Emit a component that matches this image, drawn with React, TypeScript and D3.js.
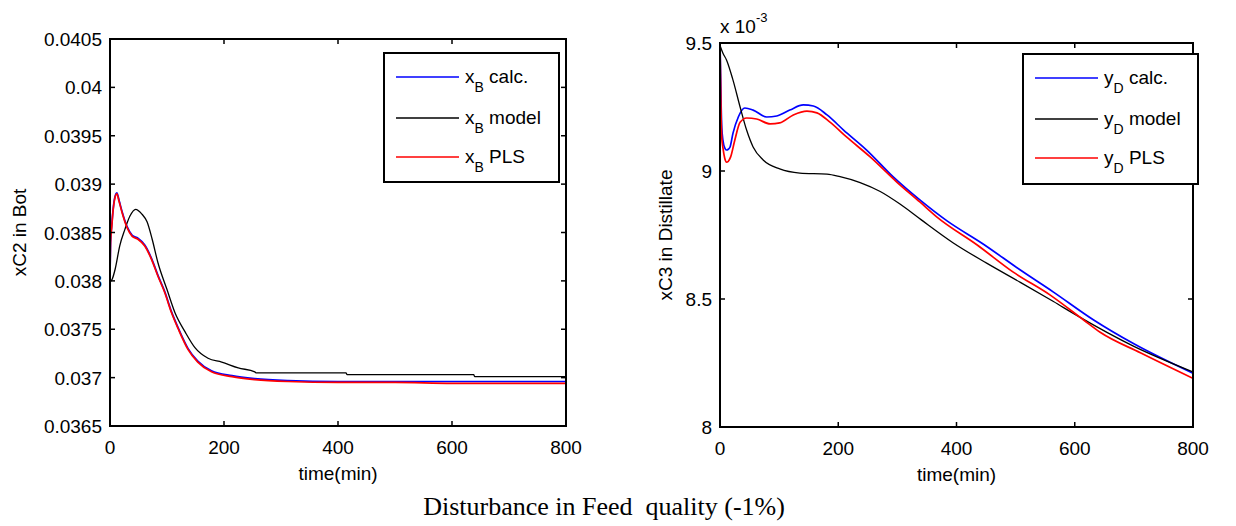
import React from "react";
import * as d3 from "d3";

// ---------- Data ----------
const xTicks = [0, 200, 400, 600, 800];

// Left panel: xC2 in Bot
const leftYTicks = [0.0365, 0.037, 0.0375, 0.038, 0.0385, 0.039, 0.0395, 0.04, 0.0405];
const leftYTickLabels = ["0.0365", "0.037", "0.0375", "0.038", "0.0385", "0.039", "0.0395", "0.04", "0.0405"];

const leftCalcT = [0, 1, 3, 5, 8, 12, 16, 21, 30, 39, 49, 61, 73, 84, 96, 108, 120, 137, 154, 178, 214, 254, 312, 400, 500, 600, 700, 800];
const leftCalcV = [0.03805, 0.0384, 0.03857, 0.03871, 0.03885, 0.03891, 0.03883, 0.03872, 0.03856, 0.03847, 0.03844, 0.03837, 0.03823, 0.03806, 0.03789, 0.03768, 0.03751, 0.0373, 0.03717, 0.03707, 0.03702, 0.03699, 0.03697, 0.03696, 0.03696, 0.03696, 0.03696, 0.03696];

const leftModelT = [0, 4, 9, 17, 26, 35, 45, 56, 65, 74, 84, 100, 114, 132, 149, 172, 196, 225, 254, 256, 414, 416, 638, 640, 800];
const leftModelV = [0.03799, 0.03802, 0.03812, 0.03836, 0.03853, 0.03867, 0.03874, 0.03869, 0.03861, 0.03843, 0.03819, 0.03791, 0.03767, 0.03747, 0.03731, 0.0372, 0.03716, 0.0371, 0.03706, 0.03705, 0.03705, 0.03703, 0.03703, 0.03701, 0.03701];

const leftPlsT = [0, 1, 3, 5, 8, 12, 16, 21, 30, 39, 49, 61, 73, 84, 96, 108, 120, 137, 154, 178, 214, 254, 312, 400, 500, 600, 700, 800];
const leftPlsV = [0.03805, 0.0384, 0.03855, 0.0387, 0.03884, 0.0389, 0.03882, 0.03871, 0.03855, 0.03846, 0.03843, 0.03836, 0.03822, 0.03805, 0.03788, 0.03767, 0.0375, 0.03729, 0.03716, 0.03706, 0.03701, 0.03698, 0.03696, 0.03695, 0.03695, 0.03694, 0.03694, 0.03694];

// Right panel: xC3 in Distillate (values x 10^-3)
const rightYTicks = [8, 8.5, 9, 9.5];
const rightYTickLabels = ["8", "8.5", "9", "9.5"];

const rightCalcT = [0, 1, 2, 3, 5, 8, 11, 14, 17, 22, 31, 42, 56, 79, 96, 118, 141, 158, 181, 209, 248, 293, 338, 384, 445, 508, 564, 632, 700, 800];
const rightCalcV = [9.5, 9.38, 9.25, 9.17, 9.12, 9.09, 9.082, 9.085, 9.094, 9.148, 9.211, 9.246, 9.238, 9.211, 9.215, 9.238, 9.258, 9.254, 9.219, 9.16, 9.082, 8.977, 8.887, 8.805, 8.715, 8.613, 8.527, 8.418, 8.325, 8.21];

const rightModelT = [0, 5, 11, 22, 34, 45, 56, 73, 101, 135, 181, 203, 237, 271, 305, 340, 394, 451, 508, 564, 604, 700, 800];
const rightModelV = [9.49, 9.46, 9.434, 9.355, 9.25, 9.16, 9.094, 9.043, 9.008, 8.992, 8.988, 8.978, 8.955, 8.92, 8.87, 8.81, 8.72, 8.64, 8.565, 8.49, 8.435, 8.315, 8.215];

const rightPlsT = [0, 1, 2, 3, 5, 8, 11, 14, 18, 25, 34, 45, 62, 85, 101, 124, 147, 164, 186, 214, 254, 299, 338, 367, 435, 496, 558, 615, 643, 711, 800];
const rightPlsV = [9.5, 9.35, 9.2, 9.13, 9.09, 9.05, 9.035, 9.038, 9.055, 9.12, 9.19, 9.207, 9.203, 9.184, 9.188, 9.219, 9.234, 9.227, 9.191, 9.133, 9.055, 8.957, 8.879, 8.82, 8.711, 8.605, 8.516, 8.418, 8.37, 8.29, 8.19];

const seriesNames = ["calc.", "model", "PLS"];
const seriesColors = ["#0000ff", "#000000", "#ff0000"];

const FONT = "'Liberation Sans', Arial, Helvetica, sans-serif";

type PanelProps = {
  x0: number; x1: number; y0: number; y1: number;
  yDomain: [number, number];
  yTicks: number[]; yTickLabels: string[];
  series: { t: number[]; v: number[] }[];
  yTitle: string; yTitleX: number;
  legendSym: string; legendSub: string;
  legend: { x: number; y: number; w: number; h: number };
  exponent?: boolean;
};

function Panel(p: PanelProps) {
  const xs = d3.scaleLinear().domain([0, 800]).range([p.x0, p.x1]);
  const ys = d3.scaleLinear().domain(p.yDomain).range([p.y1, p.y0]);
  const line = d3.line<[number, number]>()
    .x((d) => xs(d[0]))
    .y((d) => ys(d[1]))
    .curve(d3.curveMonotoneX);
  const tl = 5;
  const fs = 19;
  const rowOffsets = [24, 65, 104];
  return (
    <g>
      <defs>
        <clipPath id={`clip${p.x0}`}>
          <rect x={p.x0} y={p.y0} width={p.x1 - p.x0} height={p.y1 - p.y0} />
        </clipPath>
      </defs>
      <g clipPath={`url(#clip${p.x0})`}>
        {p.series.map((s, i) => (
          <path
            key={i}
            d={line(s.t.map((t, j) => [t, s.v[j]] as [number, number])) || ""}
            fill="none"
            stroke={seriesColors[i]}
            strokeWidth={i === 1 ? 1.3 : 1.7}
            strokeLinejoin="round"
          />
        ))}
      </g>
      <rect x={p.x0} y={p.y0} width={p.x1 - p.x0} height={p.y1 - p.y0} fill="none" stroke="#000" strokeWidth={2} />
      {xTicks.map((t) => (
        <g key={"x" + t}>
          <line x1={xs(t)} x2={xs(t)} y1={p.y1} y2={p.y1 - tl} stroke="#000" strokeWidth={1.5} />
          <line x1={xs(t)} x2={xs(t)} y1={p.y0} y2={p.y0 + tl} stroke="#000" strokeWidth={1.5} />
          <text x={xs(t)} y={p.y1 + 28} textAnchor="middle" fontFamily={FONT} fontSize={fs}>{t}</text>
        </g>
      ))}
      {p.yTicks.map((v, i) => (
        <g key={"y" + i}>
          <line x1={p.x0} x2={p.x0 + tl} y1={ys(v)} y2={ys(v)} stroke="#000" strokeWidth={1.5} />
          <line x1={p.x1} x2={p.x1 - tl} y1={ys(v)} y2={ys(v)} stroke="#000" strokeWidth={1.5} />
          <text x={p.x0 - 8} y={ys(v) + 7} textAnchor="end" fontFamily={FONT} fontSize={fs}>{p.yTickLabels[i]}</text>
        </g>
      ))}
      {p.exponent && (
        <text x={p.x0} y={p.y0 - 10} fontFamily={FONT} fontSize={fs}>
          x 10<tspan dy={-11} fontSize={13}>-3</tspan>
        </text>
      )}
      <text x={(p.x0 + p.x1) / 2} y={p.y1 + 54} textAnchor="middle" fontFamily={FONT} fontSize={fs}>time(min)</text>
      <text
        transform={`translate(${p.yTitleX},${(p.y0 + p.y1) / 2}) rotate(-90)`}
        textAnchor="middle" fontFamily={FONT} fontSize={fs}
      >{p.yTitle}</text>
      <rect x={p.legend.x} y={p.legend.y} width={p.legend.w} height={p.legend.h} fill="#fff" stroke="#000" strokeWidth={2} />
      {seriesNames.map((n, i) => {
        const ry = p.legend.y + rowOffsets[i];
        return (
          <g key={n}>
            <line x1={p.legend.x + 12} x2={p.legend.x + 75} y1={ry} y2={ry} stroke={seriesColors[i]} strokeWidth={1.5} />
            <text x={p.legend.x + 81} y={ry + 6} fontFamily={FONT} fontSize={fs} style={{ whiteSpace: "pre" }}>
              {p.legendSym}
              <tspan dy={9} fontSize={14}>{p.legendSub}</tspan>
              <tspan dy={-9}>{" " + n}</tspan>
            </text>
          </g>
        );
      })}
    </g>
  );
}

export default function App() {
  const leftSeries = [
    { t: leftCalcT, v: leftCalcV },
    { t: leftModelT, v: leftModelV },
    { t: leftPlsT, v: leftPlsV },
  ];
  const rightSeries = [
    { t: rightCalcT, v: rightCalcV },
    { t: rightModelT, v: rightModelV },
    { t: rightPlsT, v: rightPlsV },
  ];
  return (
    <svg width={1236} height={526} style={{ position: "absolute", left: 0, top: 0, background: "#fff" }}>
      <rect width={1236} height={526} fill="#fff" />
      <Panel
        x0={110} x1={566} y0={39} y1={426}
        yDomain={[0.0365, 0.0405]}
        yTicks={leftYTicks} yTickLabels={leftYTickLabels}
        series={leftSeries}
        yTitle="xC2 in Bot" yTitleX={26}
        legendSym="x" legendSub="B"
        legend={{ x: 384, y: 53, w: 175, h: 129 }}
      />
      <Panel
        x0={720} x1={1193} y0={43} y1={427}
        yDomain={[8, 9.5]}
        yTicks={rightYTicks} yTickLabels={rightYTickLabels}
        series={rightSeries}
        yTitle="xC3 in Distillate" yTitleX={672}
        legendSym="y" legendSub="D"
        legend={{ x: 1023, y: 54, w: 175, h: 130 }}
        exponent
      />
      <text x={604} y={515} textAnchor="middle" fontFamily="'Liberation Serif', 'Times New Roman', serif" fontSize={26} style={{ whiteSpace: "pre" }}>
        {"Disturbance in Feed  quality (-1%)"}
      </text>
    </svg>
  );
}
